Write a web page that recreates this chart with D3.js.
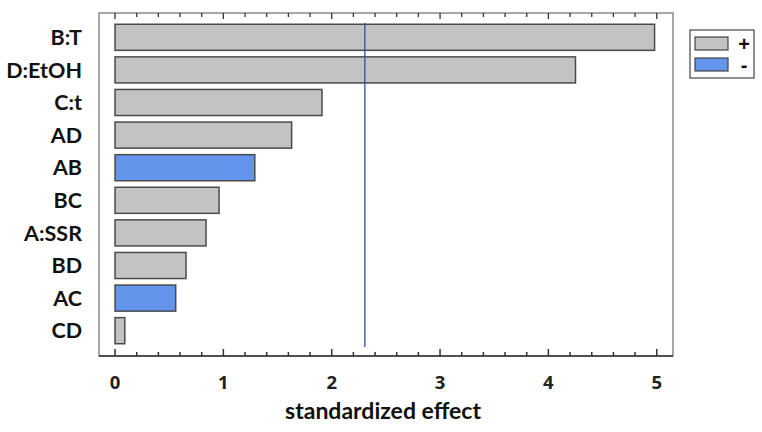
<!DOCTYPE html>
<html><head><meta charset="utf-8">
<script src="https://cdn.jsdelivr.net/npm/d3@7"></script>
<style>body{margin:0;background:#fff}</style>
</head><body>
<svg id="c" width="762" height="432"></svg>
<script>
const categories = ["B:T","D:EtOH","C:t","AD","AB","BC","A:SSR","BD","AC","CD"];
const effects = [4.98,4.25,1.91,1.63,1.29,0.96,0.84,0.655,0.56,0.09];
const signs = ["+","+","+","+","-","+","+","+","-","+"];
const tickValues = [0,1,2,3,4,5];
const criticalValue = 2.306;
const legendLabels = ["+","-"];

const svg = d3.select("#c");
const frame = {l:99, t:13, r:673, b:356};
const x = d3.scaleLinear().domain([-0.148,5.15]).range([frame.l, frame.r]);
const y = d3.scaleBand().domain(categories).range([21,347]).paddingInner(0.2).paddingOuter(0.1);
const color = d3.scaleOrdinal().domain(["+","-"]).range(["#c3c3c3","#6495ed"]);

// frame
svg.append("rect").attr("x",frame.l).attr("y",frame.t).attr("width",frame.r-frame.l).attr("height",frame.b-frame.t)
  .attr("fill","none").attr("stroke","#8a8a8a").attr("stroke-width",1.5);

// bars
svg.selectAll("rect.bar").data(categories).join("rect").attr("class","bar")
  .attr("x",x(0)).attr("y",d=>y(d)).attr("width",(d,i)=>x(effects[i])-x(0)).attr("height",y.bandwidth())
  .attr("fill",(d,i)=>color(signs[i])).attr("stroke","#4a4a4a").attr("stroke-width",1.5);

// critical line
svg.append("line").attr("x1",x(criticalValue)).attr("x2",x(criticalValue)).attr("y1",23).attr("y2",347)
  .attr("stroke","#3a46a8").attr("stroke-width",1.3);

// bottom axis
const minor = d3.range(0,26).map(i=>i*0.2).filter(v=>Math.abs(v-Math.round(v))>1e-6);
const bAxis = svg.append("g").attr("transform",`translate(0,${frame.b})`);
bAxis.append("line").attr("x1",frame.l).attr("x2",frame.r).attr("stroke","#333").attr("stroke-width",1.5);
bAxis.selectAll("line.maj").data(tickValues).join("line").attr("class","maj")
  .attr("x1",d=>x(d)).attr("x2",d=>x(d)).attr("y1",0).attr("y2",-7).attr("stroke","#333").attr("stroke-width",1.5);
bAxis.selectAll("line.min").data(minor).join("line").attr("class","min")
  .attr("x1",d=>x(d)).attr("x2",d=>x(d)).attr("y1",0).attr("y2",-4).attr("stroke","#333").attr("stroke-width",1.5);
bAxis.selectAll("text").data(tickValues).join("text")
  .attr("x",d=>x(d)).attr("y",33).attr("text-anchor","middle")
  .attr("font-family","'Open Sans', 'Liberation Sans', sans-serif").attr("font-size","18.5px").attr("font-weight","bold").attr("fill","#222")
  .text(d=>d);

// top ticks
const tAxis = svg.append("g").attr("transform",`translate(0,${frame.t})`);
tAxis.selectAll("line.maj").data(tickValues).join("line").attr("class","maj")
  .attr("x1",d=>x(d)).attr("x2",d=>x(d)).attr("y1",0).attr("y2",6).attr("stroke","#333").attr("stroke-width",1.3);
tAxis.selectAll("line.min").data(minor).join("line").attr("class","min")
  .attr("x1",d=>x(d)).attr("x2",d=>x(d)).attr("y1",0).attr("y2",4).attr("stroke","#333").attr("stroke-width",1.3);

// category labels
svg.selectAll("text.cat").data(categories).join("text").attr("class","cat")
  .attr("x",82).attr("y",d=>y(d)+y.bandwidth()/2).attr("dy","0.36em").attr("text-anchor","end")
  .attr("font-family","Lato, 'Open Sans', sans-serif").attr("font-weight","bold").attr("font-size","21.5px").attr("fill","#111")
  .text(d=>d);

// axis title
svg.append("text").attr("x",383).attr("y",419).attr("text-anchor","middle")
  .attr("font-family","Lato, 'Open Sans', sans-serif").attr("font-weight","bold").attr("font-size","23px").attr("fill","#111")
  .text("standardized effect");

// legend
const lg = svg.append("g");
lg.append("rect").attr("x",690).attr("y",30).attr("width",64).attr("height",48).attr("fill","#fff").attr("stroke","#444").attr("stroke-width",1.2);
legendLabels.forEach((s,i)=>{
  lg.append("rect").attr("x",695).attr("y",37+i*21).attr("width",33).attr("height",13)
    .attr("fill",color(s)).attr("stroke","#444").attr("stroke-width",1.2);
  lg.append("text").attr("x",744).attr("y",44+i*21).attr("dy","0.36em").attr("text-anchor","middle")
    .attr("font-family","'Liberation Sans', Arial, sans-serif").attr("font-weight","bold").attr("font-size","20px").attr("fill","#111")
    .text(s);
});
</script>
</body></html>
